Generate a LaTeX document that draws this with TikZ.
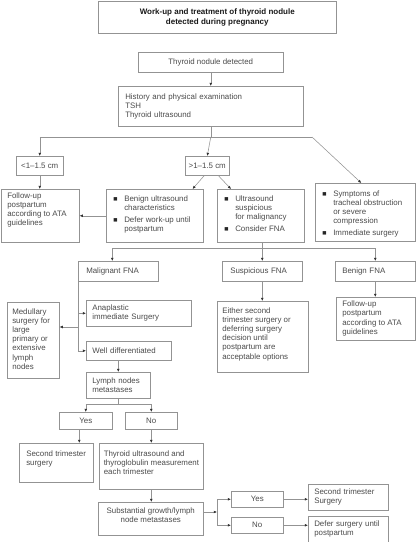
\documentclass[tikz,border=0pt]{standalone}
\usepackage{fontspec}
\setmainfont{Liberation Sans}
\newfontfamily\symfont{DejaVu Sans}
\usetikzlibrary{arrows.meta,calc}
\definecolor{linegray}{HTML}{939393}
\definecolor{txtgray}{HTML}{4A4A4A}
\newcommand{\bul}{\raisebox{0.7pt}{\symfont\fontsize{4.5}{5}\selectfont\color{black!85}■}}
\newcommand{\blist}[1]{\begin{tabular}[t]{@{}p{11pt}@{}l@{}}#1\end{tabular}}
\newcommand{\tl}[1]{\begin{tabular}[t]{@{}l@{}}#1\end{tabular}}
\newcommand{\tc}[1]{\begin{tabular}[t]{@{}c@{}}#1\end{tabular}}
% centred text box: name, x1, y1, x2, y2, options, text
\newcommand{\cbx}[7]{\node[box,anchor=north west,inner sep=0pt,minimum width={(#4-#2)*1pt},minimum height={(#5-#3)*1pt},#6] (#1) at (#2,#3) {#7};}
% left-aligned, vertically centred: name, x1, y1, x2, y2, xpad, text
\newcommand{\lbx}[7]{\node[box,anchor=north west,inner xsep=#6pt,inner ysep=0pt,minimum width={(#4-#2)*1pt},minimum height={(#5-#3)*1pt},text width={(#4-#2-2*#6)*1pt},align=left] (#1) at (#2,#3) {#7};}
% top-aligned: name, x1, y1, x2, y2, xpad, ypad, content
\newcommand{\tbx}[8]{\node[box,anchor=north west,inner xsep=#6pt,inner ysep=#7pt] (#1) at (#2,#3) {\parbox[c][\dimexpr #5pt-#3pt-#7pt-#7pt\relax][t]{\dimexpr #4pt-#2pt-#6pt-#6pt\relax}{#8}};}
\begin{document}
\begin{tikzpicture}[x=1pt,y=-1pt,
  box/.style={draw=linegray,line width=0.55pt,text=txtgray,font=\fontsize{7.9}{9.2}\selectfont},
  ln/.style={draw=linegray,line width=0.55pt},
  arr/.style={ln,-{Latex[length=3.2pt,width=2.8pt,color=black!80]}}]
\useasboundingbox (0,0) rectangle (416,542);

\cbx{title}{98}{0.5}{336}{33}{font=\bfseries\fontsize{8}{10}\selectfont,align=center,text=black!90}{Work-up and treatment of thyroid nodule\\detected during pregnancy}
\cbx{detect}{138}{52}{283}{72}{}{Thyroid nodule detected}
\lbx{hist}{118}{86}{303}{126}{7}{History and physical examination\\TSH\\Thyroid ultrasound}
\cbx{small}{16}{156}{63}{175}{}{<1–1.5 cm}
\cbx{big}{185}{156}{229}{175}{}{>1–1.5 cm}
\tbx{fu1}{1}{189}{79}{242}{6}{2.4}{\tl{Follow-up\\postpartum\\according to ATA\\guidelines}}
\tbx{benign}{106}{189}{203}{242}{7}{5.4}{\blist{\bul & Benign ultrasound\\ & characteristics\\[2.5pt] \bul & Defer work-up until\\ & postpartum}}
\tbx{usus}{217}{189}{304}{242}{7}{5.4}{\blist{\bul & Ultrasound\\ & suspicious\\ & for malignancy\\[2.5pt] \bul & Consider FNA}}
\tbx{sympt}{315}{183}{415}{241}{7}{6.5}{\blist{\bul & Symptoms of\\ & tracheal obstruction\\ & or severe\\ & compression\\[2.5pt] \bul & Immediate surgery}}
\lbx{mal}{78}{261}{158}{281}{8}{Malignant FNA}
\lbx{susfna}{222}{261}{302}{281}{8}{Suspicious FNA}
\lbx{benfna}{335}{261}{415}{281}{7}{Benign FNA}
\tbx{either}{217}{301}{308}{372}{5}{5.4}{\tl{Either second\\trimester surgery or\\deferring surgery\\decision until\\postpartum are\\acceptable options}}
\tbx{fu2}{336}{297}{415}{340}{6}{3}{\tl{Follow-up\\postpartum\\according to ATA\\guidelines}}
\lbx{anap}{86}{300}{191}{326}{6}{Anaplastic\\immediate Surgery}
\tbx{medul}{7}{302}{59}{378}{5}{5.4}{\tl{Medullary\\surgery for\\large\\primary or\\extensive\\lymph\\nodes}}
\lbx{welld}{86}{341}{171}{360}{6}{Well differentiated}
\lbx{lymph}{86}{372}{150}{398}{6}{Lymph nodes\\metastases}
\cbx{yes1}{59}{412}{112}{429}{}{Yes}
\cbx{no1}{125}{412}{177}{429}{}{No}
\tbx{sec1}{19}{443}{93}{482}{7}{6.4}{\tl{Second trimester\\surgery}}
\tbx{tus}{99}{443}{203}{489}{4.5}{6.4}{\tl{Thyroid ultrasound and\\thyroglobulin measurement\\each trimester}}
\tbx{subst}{98}{502}{203}{535}{4}{4.4}{\centering\tc{Substantial growth/lymph\\node metastases}}
\cbx{yes2}{231}{491}{283}{507}{}{Yes}
\cbx{no2}{231}{517}{283}{533}{}{No}
\lbx{sec2}{308}{484}{388}{510}{6}{Second trimester\\Surgery}
\lbx{defer}{308}{516}{388}{541.5}{6}{Defer surgery until\\postpartum}

% connectors
\coordinate (j1) at (hist.south |- 0,137);
\coordinate (j1r) at (312,137);
\draw[arr] (detect.south) -- (detect.south |- hist.north);
\draw[ln] (hist.south) -- (j1);
\draw[ln] (small.north |- j1) -- (j1r);
\draw[arr] (small.north |- j1) -- (small.north);
\draw[arr] (j1) -- (big.north);
\draw[arr] (j1r) -- ([xshift=-4pt]sympt.north);
\draw[arr] (small.south) -- (small.south |- fu1.north);
\draw[arr] ([xshift=-3pt]big.south) -- ([xshift=-11pt]benign.north east);
\draw[arr] ([xshift=11pt]big.south) -- ([xshift=14pt]usus.north west);
\draw[arr] (benign.west) -- (fu1.east |- benign.west);
\coordinate (j2) at ([xshift=1.5pt]usus.south |- 0,248);
\draw[ln] ([xshift=1.5pt]usus.south) -- (j2);
\draw[ln] ([xshift=-6pt]mal.north |- j2) -- (benfna.north |- j2);
\draw[arr] ([xshift=-6pt]mal.north |- j2) -- ([xshift=-6pt]mal.north);
\draw[arr] (susfna.north |- j2) -- (susfna.north);
\draw[arr] (benfna.north |- j2) -- (benfna.north);
\draw[arr] (susfna.south) -- (susfna.south |- either.north);
\draw[arr] (benfna.south) -- (benfna.south |- fu2.north);
\draw[ln] (mal.south west) -- (mal.south west |- welld.west);
\draw[arr] (mal.south west |- anap.west) -- (anap.west);
\coordinate (mj) at (mal.south west |- 0,327);
\draw[arr] (mj) -- (medul.east |- mj);
\draw[arr] (mal.south west |- welld.west) -- (welld.west);
\draw[arr] (lymph.north |- welld.south) -- (lymph.north);
\coordinate (j3) at (lymph.south |- 0,404);
\draw[ln] (lymph.south) -- (j3);
\draw[ln] (yes1.north |- j3) -- (no1.north |- j3);
\draw[arr] (yes1.north |- j3) -- (yes1.north);
\draw[arr] (no1.north |- j3) -- (no1.north);
\draw[arr] ([xshift=-6.5pt]yes1.south) -- ([xshift=-6.5pt]yes1.south |- sec1.north);
\draw[arr] (no1.south) -- (no1.south |- tus.north);
\draw[arr] (tus.south) -- (tus.south |- subst.north);
\coordinate (j4) at (217,512);
\draw[arr] (subst.east |- j4) -- (j4);
\draw[ln] (j4 |- yes2.west) -- (j4 |- no2.west);
\draw[arr] (j4 |- yes2.west) -- (yes2.west);
\draw[arr] (j4 |- no2.west) -- (no2.west);
\draw[arr] (yes2.east) -- (sec2.west |- yes2.east);
\draw[arr] (no2.east) -- (defer.west |- no2.east);
\end{tikzpicture}
\end{document}
